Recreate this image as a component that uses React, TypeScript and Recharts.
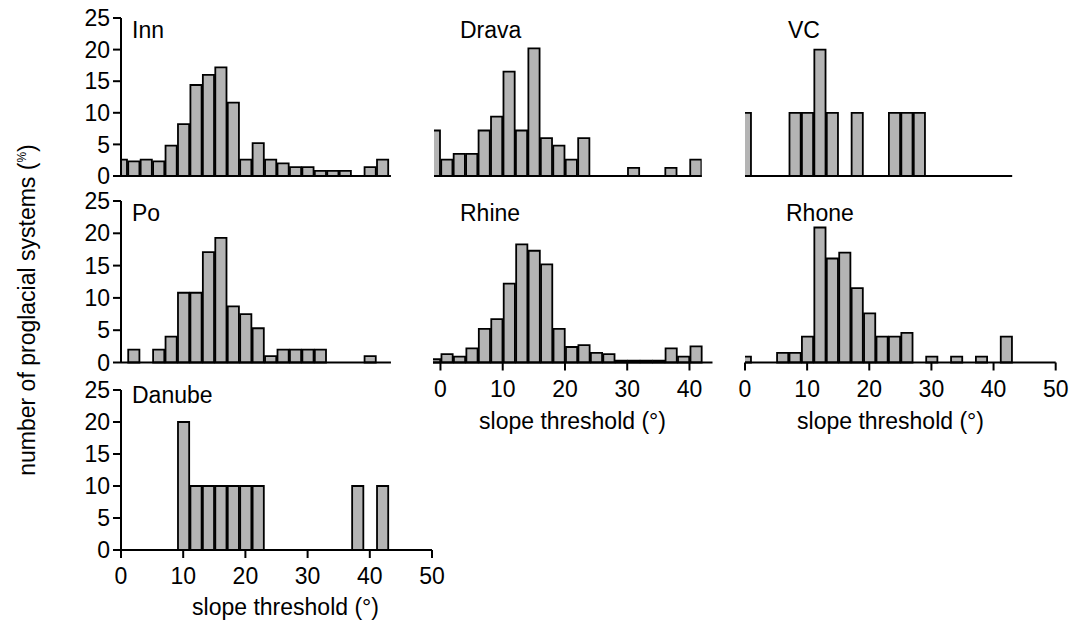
import { BarChart, Bar, XAxis, YAxis } from 'recharts';

// bin centres (2° bins); left/right columns use even centres, middle column odd
const EVEN_BINS = [0, 2, 4, 6, 8, 10, 12, 14, 16, 18, 20, 22, 24, 26, 28, 30, 32, 34, 36, 38, 40, 42];
const ODD_BINS = [-1, 1, 3, 5, 7, 9, 11, 13, 15, 17, 19, 21, 23, 25, 27, 29, 31, 33, 35, 37, 39, 41];

// percentage of proglacial systems per bin
const INN = [2.6, 2.3, 2.6, 2.3, 4.8, 8.2, 14.4, 16.0, 17.2, 11.6, 2.6, 5.2, 2.6, 2.0, 1.4, 1.4, 0.8, 0.8, 0.8, 0, 1.4, 2.6];
const DRAVA = [7.2, 2.6, 3.5, 3.5, 7.2, 9.4, 16.5, 7.2, 20.2, 6.0, 4.8, 2.6, 6.0, 0, 0, 0, 1.3, 0, 0, 1.3, 0, 2.6];
const VC = [10, 0, 0, 0, 10, 10, 20, 10, 0, 10, 0, 0, 10, 10, 10, 0, 0, 0, 0, 0, 0, 0];
const PO = [0, 2.0, 0, 2.0, 4.0, 10.8, 10.8, 17.1, 19.3, 8.7, 7.5, 5.3, 1.0, 2.0, 2.0, 2.0, 2.0, 0, 0, 0, 1.0, 0];
const RHINE = [0.5, 1.3, 0.9, 2.2, 5.2, 6.7, 12.2, 18.3, 17.3, 15.2, 5.2, 2.4, 2.7, 1.5, 1.3, 0.3, 0.3, 0.3, 0.3, 2.2, 0.9, 2.5];
const RHONE = [0.9, 0, 0, 1.5, 1.5, 4.0, 20.9, 16.1, 17.0, 11.5, 7.6, 4.0, 4.0, 4.6, 0, 0.9, 0, 0.9, 0, 0.9, 0, 4.0];
const DANUBE = [0, 0, 0, 0, 0, 20, 10, 10, 10, 10, 10, 10, 0, 0, 0, 0, 0, 0, 0, 10, 0, 10];

const Y_TICKS = [0, 5, 10, 15, 20, 25];
const X_TICKS = [0, 10, 20, 30, 40, 50];
const RHINE_TICKS = [0, 10, 20, 30, 40];

const FONT = '"Liberation Sans", Arial, Helvetica, sans-serif';
const ML = 70;
const MT = 24;
const MR = 26;
const XH = 44;

// page geometry of each column (x of 0°, px per degree) and row (top, height)
const COLS = [
  { x0: 121, k: 6.22 },
  { x0: 440, k: 6.225 },
  { x0: 745, k: 6.214 },
];
const ROWS = [
  { top: 18, h: 158 },
  { top: 200.5, h: 161.5 },
  { top: 390, h: 160 },
];

const toRows = (bins: number[], vals: number[]) => bins.map((x, i) => ({ x, v: vals[i] }));

type PanelProps = {
  bins: number[];
  vals: number[];
  domain: [number, number];
  col: number;
  row: number;
  yAxis?: boolean;
  ticks?: number[];
};

function Panel({ bins, vals, domain, col, row, yAxis, ticks }: PanelProps) {
  const { x0, k } = COLS[col];
  const { top, h } = ROWS[row];
  const left = x0 + domain[0] * k;
  const width = (domain[1] - domain[0]) * k;
  const barSize = (2 * width) / (domain[1] - domain[0]);
  return (
    <div style={{ position: 'absolute', left: left - ML, top: top - MT }}>
      <BarChart
        width={ML + width + MR}
        height={MT + h + XH}
        data={toRows(bins, vals)}
        margin={{ top: MT, right: MR, bottom: 0, left: yAxis ? 0 : ML }}
        barCategoryGap={0}
        barGap={0}
      >
        <XAxis
          type="number"
          dataKey="x"
          domain={domain}
          allowDataOverflow
          height={XH}
          ticks={ticks}
          interval={0}
          tick={ticks ? { fill: '#000', fontSize: 23, fontFamily: FONT } : false}
          tickLine={ticks ? { stroke: '#000', strokeWidth: 2 } : false}
          tickSize={8}
          tickMargin={10}
          axisLine={{ stroke: '#000', strokeWidth: 2 }}
        />
        <YAxis
          type="number"
          domain={[0, 25]}
          ticks={Y_TICKS}
          interval={0}
          width={ML}
          hide={!yAxis}
          tick={{ fill: '#000', fontSize: 23, fontFamily: FONT }}
          tickLine={{ stroke: '#000', strokeWidth: 2 }}
          tickSize={8}
          tickMargin={3}
          axisLine={{ stroke: '#000', strokeWidth: 2 }}
        />
        <Bar
          dataKey="v"
          fill="#b4b4b4"
          stroke="#000"
          strokeWidth={1.8}
          barSize={barSize}
          isAnimationActive={false}
        />
      </BarChart>
    </div>
  );
}

const TITLE = { fontSize: 23, fontFamily: FONT, fill: '#000' };

export default function App() {
  return (
    <div style={{ position: 'absolute', left: 0, top: 0, width: 1073, height: 625, background: '#fff', overflow: 'hidden' }}>
      <Panel bins={EVEN_BINS} vals={INN} domain={[0, 43.4]} col={0} row={0} yAxis />
      <Panel bins={ODD_BINS} vals={DRAVA} domain={[-1, 42]} col={1} row={0} />
      <Panel bins={EVEN_BINS} vals={VC} domain={[0, 43]} col={2} row={0} />
      <Panel bins={EVEN_BINS} vals={PO} domain={[0, 43.4]} col={0} row={1} yAxis />
      <Panel bins={ODD_BINS} vals={RHINE} domain={[-1.2, 43.7]} col={1} row={1} ticks={RHINE_TICKS} />
      <Panel bins={EVEN_BINS} vals={RHONE} domain={[0, 50]} col={2} row={1} ticks={X_TICKS} />
      <Panel bins={EVEN_BINS} vals={DANUBE} domain={[0, 50]} col={0} row={2} yAxis ticks={X_TICKS} />

      <svg width={1073} height={625} style={{ position: 'absolute', left: 0, top: 0, pointerEvents: 'none' }}>
        <text x={132} y={38} {...TITLE}>Inn</text>
        <text x={460} y={38} {...TITLE}>Drava</text>
        <text x={788} y={38} {...TITLE}>VC</text>
        <text x={132} y={221} {...TITLE}>Po</text>
        <text x={460} y={221} {...TITLE}>Rhine</text>
        <text x={786} y={221} {...TITLE}>Rhone</text>
        <text x={132} y={403} {...TITLE}>Danube</text>

        <text x={285.5} y={615} textAnchor="middle" {...TITLE}>slope threshold (°)</text>
        <text x={572.5} y={429} textAnchor="middle" {...TITLE}>slope threshold (°)</text>
        <text x={890.5} y={429} textAnchor="middle" {...TITLE}>slope threshold (°)</text>

        <text transform="translate(35,310) rotate(-90)" textAnchor="middle" {...TITLE}>
          number of proglacial systems (<tspan fontSize={12} dy={-9}>%</tspan><tspan dy={9}>)</tspan>
        </text>
      </svg>
    </div>
  );
}
